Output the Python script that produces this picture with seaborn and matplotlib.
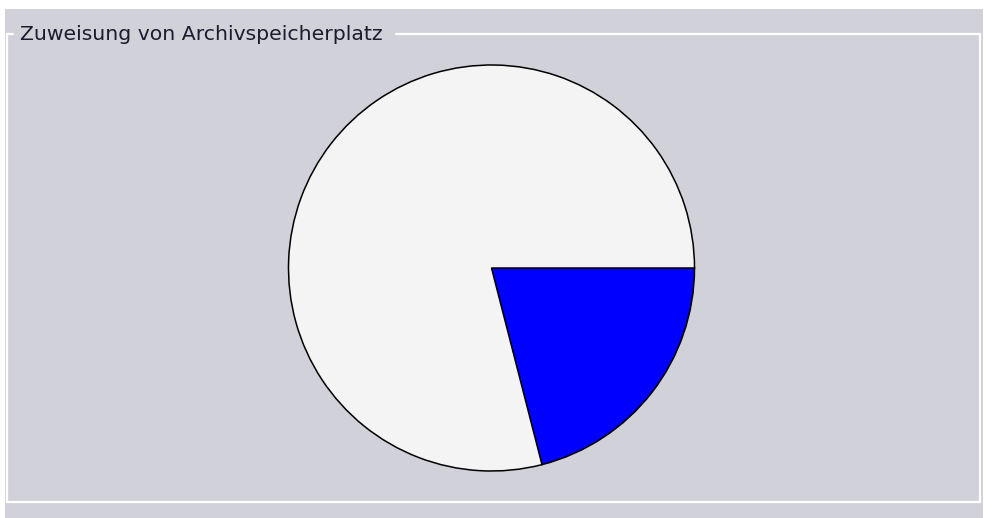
import matplotlib
matplotlib.use("Agg")
import matplotlib.pyplot as plt
from matplotlib.patches import Rectangle
from matplotlib.lines import Line2D
import seaborn as sns

# Storage allocation shares (percent)
categories = ["Belegt", "Frei"]
shares = [21, 79]
colors = ["#0000ff", "#f4f4f4"]
title = "Zuweisung von Archivspeicherplatz"

sns.set_theme(style="white")
plt.rcParams["font.family"] = ["DejaVu Sans"]

W, H = 985, 518
fig = plt.figure(figsize=(W / 100, H / 100), dpi=100, facecolor="white")

def px(x, y):
    """Pixel position (top-left origin) to figure fraction."""
    return x / W, 1 - y / H

# grey panel background
x0, y0 = px(5, 518)
x1, y1 = px(983, 9)
fig.patches.append(Rectangle((x0, y0), x1 - x0, y1 - y0, transform=fig.transFigure,
                             facecolor="#d1d1da", edgecolor="none", zorder=0))

# group box frame, top edge interrupted by the caption
frame_kw = dict(transform=fig.transFigure, color="white", lw=1.6, zorder=1)
segments = [((7, 33.5), (13, 33.5)), ((396, 33.5), (980, 33.5)),
            ((980, 33.5), (980, 502)), ((980, 502), (7, 502)), ((7, 502), (7, 33.5))]
for (xa, ya), (xb, yb) in segments:
    (fa, ga), (fb, gb) = px(xa, ya), px(xb, yb)
    fig.lines.append(Line2D([fa, fb], [ga, gb], **frame_kw))

tx, ty = px(20, 40)
fig.text(tx, ty, title, fontsize=14.7, color="#1c1c2c", va="baseline", ha="left", zorder=3)

# pie chart
cx, cy, r = 491.5, 268, 203
left, bottom = px(cx - r, cy + r)
ax = fig.add_axes([left, bottom, 2 * r / W, 2 * r / H])
ax.set_zorder(5)
ax.patch.set_visible(False)
wedges, _ = ax.pie(shares, colors=colors, startangle=0, counterclock=False, radius=1,
                   wedgeprops=dict(edgecolor="black", linewidth=1.1))
for w in wedges:
    w.set_clip_on(False)
ax.set_xlim(-1, 1)
ax.set_ylim(-1, 1)
ax.set_aspect("equal")
ax.axis("off")

fig.savefig("out.png", dpi=100, facecolor="white")
